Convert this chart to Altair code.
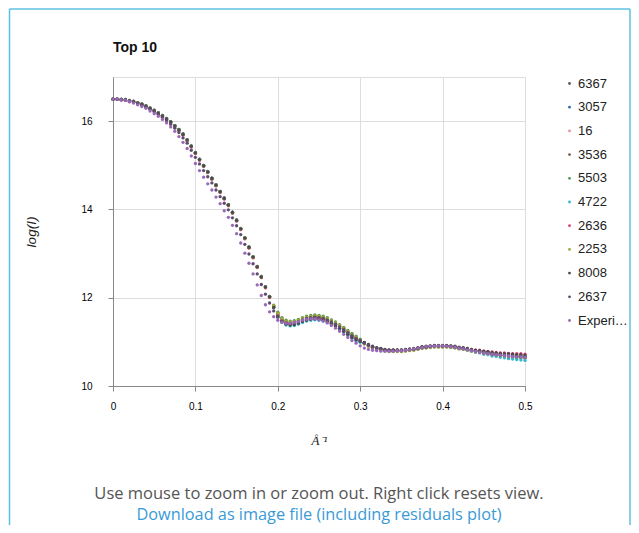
import altair as alt
import pandas as pd

# scattering vector q (1/Angstrom), same sampling for every series
Q = [0.000, 0.005, 0.010, 0.015, 0.020, 0.025, 0.030, 0.035, 0.040, 0.045,
     0.050, 0.055, 0.060, 0.065, 0.070, 0.075, 0.080, 0.085, 0.090, 0.095,
     0.100, 0.105, 0.110, 0.115, 0.120, 0.125, 0.130, 0.135, 0.140, 0.145,
     0.150, 0.155, 0.160, 0.165, 0.170, 0.175, 0.180, 0.185, 0.190, 0.195,
     0.200, 0.205, 0.210, 0.215, 0.220, 0.225, 0.230, 0.235, 0.240, 0.245,
     0.250, 0.255, 0.260, 0.265, 0.270, 0.275, 0.280, 0.285, 0.290, 0.295,
     0.300, 0.305, 0.310, 0.315, 0.320, 0.325, 0.330, 0.335, 0.340, 0.345,
     0.350, 0.355, 0.360, 0.365, 0.370, 0.375, 0.380, 0.385, 0.390, 0.395,
     0.400, 0.405, 0.410, 0.415, 0.420, 0.425, 0.430, 0.435, 0.440, 0.445,
     0.450, 0.455, 0.460, 0.465, 0.470, 0.475, 0.480, 0.485, 0.490, 0.495,
     0.500]

S6367 = [16.50,16.50,16.49,16.48,16.46,16.44,16.41,16.38,16.34,16.29,
         16.24,16.18,16.12,16.05,15.98,15.89,15.80,15.70,15.57,15.43,
         15.28,15.13,14.99,14.85,14.70,14.55,14.40,14.25,14.10,13.93,
         13.75,13.56,13.35,13.14,12.92,12.70,12.47,12.24,12.02,11.81,
         11.64,11.52,11.46,11.44,11.45,11.48,11.52,11.55,11.57,11.58,
         11.57,11.55,11.52,11.47,11.42,11.36,11.30,11.23,11.16,11.10,
         11.04,10.97,10.92,10.88,10.85,10.83,10.81,10.80,10.80,10.80,
         10.80,10.81,10.82,10.83,10.85,10.87,10.88,10.89,10.90,10.90,
         10.90,10.90,10.89,10.88,10.86,10.85,10.83,10.81,10.79,10.78,
         10.76,10.75,10.73,10.72,10.71,10.70,10.69,10.68,10.67,10.67,
         10.66]

S3057 = [16.50,16.50,16.49,16.49,16.47,16.45,16.42,16.39,16.35,16.30,
         16.25,16.19,16.13,16.06,15.99,15.90,15.81,15.71,15.58,15.44,
         15.29,15.14,15.00,14.86,14.71,14.56,14.41,14.26,14.11,13.94,
         13.76,13.57,13.36,13.15,12.93,12.71,12.48,12.25,12.03,11.78,
         11.59,11.47,11.41,11.39,11.40,11.43,11.47,11.50,11.52,11.53,
         11.52,11.50,11.47,11.42,11.37,11.31,11.25,11.18,11.11,11.05,
         11.01,10.98,10.93,10.89,10.86,10.84,10.82,10.81,10.81,10.81,
         10.81,10.82,10.83,10.84,10.86,10.88,10.89,10.90,10.91,10.91,
         10.91,10.91,10.90,10.89,10.87,10.86,10.83,10.81,10.79,10.77,
         10.75,10.74,10.72,10.70,10.69,10.68,10.67,10.65,10.64,10.64,
         10.63]

S16 = [16.50,16.50,16.48,16.47,16.44,16.42,16.39,16.36,16.32,16.27,
       16.22,16.16,16.10,16.03,15.96,15.87,15.78,15.68,15.55,15.41,
       15.26,15.11,14.97,14.83,14.68,14.53,14.38,14.23,14.08,13.91,
       13.73,13.54,13.33,13.12,12.90,12.68,12.45,12.22,12.00,11.82,
       11.66,11.54,11.48,11.46,11.47,11.50,11.54,11.57,11.59,11.60,
       11.59,11.57,11.54,11.49,11.44,11.38,11.32,11.25,11.18,11.12,
       11.05,10.97,10.92,10.88,10.85,10.83,10.81,10.80,10.80,10.80,
       10.80,10.81,10.82,10.83,10.85,10.87,10.88,10.89,10.90,10.90,
       10.90,10.90,10.89,10.88,10.86,10.86,10.84,10.82,10.80,10.79,
       10.78,10.77,10.75,10.74,10.73,10.72,10.72,10.71,10.70,10.70,
       10.69]

S3536 = [16.50,16.50,16.49,16.49,16.47,16.45,16.42,16.39,16.35,16.30,
         16.25,16.19,16.13,16.06,15.99,15.90,15.81,15.71,15.58,15.44,
         15.29,15.14,15.00,14.86,14.71,14.56,14.41,14.26,14.11,13.94,
         13.76,13.57,13.36,13.15,12.93,12.71,12.48,12.25,12.03,11.80,
         11.62,11.50,11.44,11.42,11.43,11.46,11.50,11.53,11.55,11.56,
         11.55,11.53,11.50,11.45,11.40,11.34,11.28,11.21,11.14,11.08,
         11.03,10.96,10.91,10.87,10.84,10.82,10.80,10.79,10.79,10.79,
         10.79,10.80,10.81,10.82,10.84,10.86,10.87,10.88,10.89,10.89,
         10.89,10.89,10.88,10.87,10.85,10.84,10.82,10.80,10.78,10.77,
         10.75,10.74,10.72,10.71,10.70,10.69,10.68,10.67,10.66,10.66,
         10.65]

S5503 = [16.50,16.50,16.49,16.48,16.46,16.44,16.41,16.38,16.34,16.29,
         16.24,16.18,16.12,16.05,15.98,15.89,15.80,15.70,15.57,15.43,
         15.28,15.13,14.99,14.85,14.70,14.55,14.40,14.25,14.10,13.93,
         13.75,13.56,13.35,13.14,12.92,12.70,12.47,12.24,12.02,11.83,
         11.67,11.55,11.49,11.47,11.48,11.51,11.55,11.58,11.60,11.61,
         11.60,11.58,11.55,11.50,11.45,11.39,11.33,11.26,11.19,11.13,
         11.06,10.98,10.93,10.89,10.86,10.84,10.82,10.81,10.81,10.81,
         10.81,10.82,10.83,10.84,10.86,10.88,10.89,10.90,10.91,10.91,
         10.91,10.91,10.90,10.89,10.87,10.86,10.84,10.82,10.80,10.79,
         10.77,10.76,10.74,10.73,10.72,10.71,10.70,10.69,10.68,10.68,
         10.67]

S4722 = [16.50,16.50,16.49,16.48,16.46,16.44,16.41,16.38,16.34,16.29,
         16.24,16.18,16.12,16.05,15.98,15.89,15.80,15.70,15.57,15.43,
         15.28,15.13,14.99,14.85,14.70,14.55,14.40,14.25,14.10,13.93,
         13.75,13.56,13.35,13.14,12.92,12.70,12.47,12.24,12.02,11.77,
         11.56,11.44,11.38,11.36,11.37,11.40,11.44,11.47,11.49,11.50,
         11.49,11.47,11.44,11.39,11.34,11.28,11.22,11.15,11.08,11.02,
         10.99,10.96,10.91,10.87,10.84,10.82,10.80,10.79,10.79,10.79,
         10.79,10.80,10.81,10.82,10.84,10.86,10.87,10.88,10.89,10.89,
         10.89,10.89,10.88,10.87,10.85,10.84,10.81,10.79,10.76,10.75,
         10.72,10.71,10.68,10.67,10.65,10.64,10.62,10.61,10.60,10.59,
         10.58]

S2636 = [16.50,16.50,16.48,16.47,16.45,16.43,16.40,16.37,16.33,16.28,
         16.23,16.17,16.11,16.04,15.97,15.88,15.79,15.69,15.56,15.42,
         15.27,15.12,14.98,14.84,14.69,14.54,14.39,14.24,14.09,13.92,
         13.74,13.55,13.34,13.13,12.91,12.69,12.46,12.23,12.01,11.79,
         11.60,11.48,11.42,11.40,11.41,11.44,11.48,11.51,11.53,11.54,
         11.53,11.51,11.48,11.43,11.38,11.32,11.26,11.19,11.12,11.06,
         11.02,10.98,10.93,10.89,10.86,10.84,10.82,10.81,10.81,10.81,
         10.81,10.82,10.83,10.84,10.86,10.88,10.89,10.90,10.91,10.91,
         10.91,10.91,10.90,10.89,10.87,10.86,10.85,10.83,10.81,10.81,
         10.79,10.78,10.77,10.76,10.75,10.75,10.74,10.73,10.73,10.73,
         10.72]

S2253 = [16.50,16.50,16.49,16.48,16.46,16.44,16.41,16.38,16.34,16.29,
         16.24,16.18,16.12,16.05,15.98,15.89,15.80,15.70,15.57,15.43,
         15.28,15.13,14.99,14.85,14.70,14.55,14.40,14.25,14.10,13.93,
         13.75,13.56,13.35,13.14,12.92,12.70,12.47,12.24,12.02,11.82,
         11.65,11.53,11.47,11.45,11.46,11.49,11.53,11.56,11.58,11.59,
         11.58,11.56,11.53,11.48,11.43,11.37,11.31,11.24,11.17,11.11,
         11.04,10.95,10.90,10.86,10.83,10.81,10.79,10.78,10.78,10.78,
         10.78,10.79,10.80,10.81,10.83,10.85,10.86,10.87,10.88,10.88,
         10.88,10.88,10.87,10.86,10.84,10.83,10.81,10.79,10.77,10.76,
         10.74,10.73,10.71,10.70,10.69,10.68,10.67,10.66,10.65,10.65,
         10.64]

S8008 = [16.50,16.50,16.49,16.48,16.46,16.44,16.41,16.38,16.34,16.29,
         16.24,16.18,16.12,16.05,15.98,15.89,15.80,15.70,15.57,15.43,
         15.28,15.13,14.99,14.85,14.70,14.55,14.40,14.25,14.10,13.93,
         13.75,13.56,13.35,13.14,12.92,12.70,12.47,12.24,12.02,11.78,
         11.58,11.46,11.40,11.38,11.39,11.42,11.46,11.49,11.51,11.52,
         11.51,11.49,11.46,11.41,11.36,11.30,11.24,11.17,11.10,11.04,
         11.01,10.99,10.94,10.90,10.87,10.85,10.83,10.82,10.82,10.82,
         10.82,10.83,10.84,10.85,10.87,10.89,10.90,10.91,10.92,10.92,
         10.92,10.92,10.91,10.90,10.88,10.87,10.85,10.83,10.81,10.80,
         10.79,10.78,10.76,10.75,10.74,10.73,10.73,10.72,10.71,10.71,
         10.70]

S2637 = [16.50,16.50,16.49,16.48,16.45,16.43,16.39,16.36,16.32,16.27,
         16.21,16.15,16.09,16.01,15.93,15.84,15.74,15.62,15.50,15.34,
         15.18,15.03,14.88,14.74,14.60,14.44,14.29,14.14,13.99,13.81,
         13.63,13.43,13.21,12.99,12.77,12.54,12.30,12.08,11.88,11.70,
         11.56,11.47,11.43,11.42,11.43,11.46,11.50,11.53,11.55,11.56,
         11.55,11.53,11.50,11.45,11.40,11.34,11.28,11.21,11.14,11.08,
         11.03,10.97,10.92,10.88,10.85,10.83,10.81,10.80,10.80,10.80,
         10.80,10.81,10.82,10.83,10.85,10.87,10.88,10.89,10.90,10.90,
         10.90,10.90,10.89,10.88,10.86,10.85,10.83,10.81,10.79,10.77,
         10.75,10.74,10.72,10.71,10.70,10.69,10.68,10.67,10.66,10.66,
         10.65]

EXPERIMENTAL = [16.50,16.50,16.48,16.47,16.44,16.41,16.37,16.33,16.29,16.23,
                16.17,16.11,16.04,15.96,15.87,15.77,15.65,15.52,15.38,15.21,
                15.04,14.88,14.73,14.58,14.44,14.28,14.13,13.97,13.82,13.64,
                13.45,13.24,13.01,12.78,12.54,12.29,12.05,11.84,11.68,11.57,
                11.49,11.44,11.42,11.42,11.44,11.46,11.49,11.51,11.52,11.52,
                11.50,11.47,11.43,11.37,11.31,11.24,11.17,11.10,11.03,10.97,
                10.91,10.86,10.83,10.81,10.80,10.79,10.79,10.79,10.79,10.80,
                10.80,10.81,10.82,10.84,10.86,10.87,10.89,10.90,10.90,10.91,
                10.91,10.90,10.89,10.88,10.86,10.84,10.82,10.80,10.78,10.76,
                10.75,10.73,10.72,10.71,10.70,10.69,10.68,10.67,10.66,10.66,
                10.65]

SERIES = ["6367", "3057", "16", "3536", "5503", "4722", "2636", "2253",
          "8008", "2637", "Experimental"]
VALUES = [S6367, S3057, S16, S3536, S5503, S4722, S2636, S2253,
          S8008, S2637, EXPERIMENTAL]
COLORS = ["#5a5a5a", "#3b6ea5", "#e8949c", "#7a5a4a", "#4a9a4a", "#30b8d0",
          "#e0407a", "#a0a83a", "#4a4a4a", "#5e4c6e", "#9a68b8"]

X_TICKS = [0, 0.1, 0.2, 0.3, 0.4, 0.5]
Y_TICKS = [10, 12, 14, 16]

TITLE = "Top 10"
NOTE = "Use mouse to zoom in or zoom out. Right click resets view."
LINK = "Download as image file (including residuals plot)"

rows = []
for idx, (name, vals) in enumerate(zip(SERIES, VALUES)):
    for q, v in zip(Q, vals):
        rows.append({"series": name, "idx": idx, "q": q, "v": v})
df = pd.DataFrame(rows)

W, H = 412, 309

points = alt.Chart(df).mark_circle(size=11, opacity=1).encode(
    x=alt.X("q:Q", scale=alt.Scale(domain=[0, 0.5], nice=False),
            axis=alt.Axis(values=X_TICKS, format=".1~f", title="Å⁻¹",
                          labelFlush=False,
                          titleFont="Liberation Serif", titleFontStyle="italic",
                          titleFontSize=13, titleFontWeight="normal",
                          titleColor="#222", titlePadding=23, labelPadding=10)),
    y=alt.Y("v:Q", scale=alt.Scale(domain=[10, 17], nice=False, zero=False),
            axis=alt.Axis(values=Y_TICKS, format="d", title="log(I)",
                          labelFlush=False,
                          titleFont="Liberation Sans", titleFontStyle="italic",
                          titleFontSize=13.5, titleFontWeight="normal",
                          titleColor="#222", titlePadding=42, labelPadding=16)),
    color=alt.Color("series:N", sort=SERIES,
                    scale=alt.Scale(domain=SERIES, range=COLORS),
                    legend=alt.Legend(title=None, orient="none", legendX=450,
                                      legendY=0, symbolType="circle",
                                      symbolSize=8, symbolStrokeWidth=0,
                                      labelFont="Liberation Sans",
                                      labelFontSize=13, labelColor="#222",
                                      rowPadding=9.7, labelOffset=2,
                                      labelLimit=50, padding=0)),
    order=alt.Order("idx:Q"),
)

one = pd.DataFrame({"k": [0]})

title = alt.Chart(pd.DataFrame({"t": [TITLE]})).mark_text(
    font="Liberation Sans", fontSize=14, fontWeight="bold", color="#111",
    align="left", baseline="alphabetic").encode(
    text="t:N", x=alt.value(0), y=alt.value(-25))

note = alt.Chart(pd.DataFrame({"t": [NOTE]})).mark_text(
    font="Open Sans", fontSize=16.5, color="#555555", align="center",
    baseline="middle").encode(text="t:N", x=alt.value(W / 2), y=alt.value(417))

link = alt.Chart(pd.DataFrame({"t": [LINK]})).mark_text(
    font="Open Sans", fontSize=16.3, color="#3a9ad6", align="center",
    baseline="middle").encode(text="t:N", x=alt.value(W / 2), y=alt.value(437.5))

border_col = "#5cc0e4"
left_b = alt.Chart(one).mark_rule(color=border_col, strokeWidth=1.5).encode(
    x=alt.value(-103.5), y=alt.value(-68), y2=alt.value(448))
right_b = alt.Chart(one).mark_rule(color=border_col, strokeWidth=1.5).encode(
    x=alt.value(517), y=alt.value(-68), y2=alt.value(448))
top_b = alt.Chart(one).mark_rule(color=border_col, strokeWidth=1.5).encode(
    x=alt.value(-103.5), x2=alt.value(517), y=alt.value(-68))

chart = alt.layer(points, title, note, link, left_b, right_b, top_b).properties(
    width=W, height=H,
    autosize=alt.AutoSizeParams(type="none"),
    padding={"left": 105, "top": 69, "right": 106, "bottom": 139},
).configure_view(stroke=None).configure_axis(
    labelFont="Liberation Sans", labelFontSize=13, labelColor="#444",
    gridColor="#cccccc", gridWidth=1, domainColor="#333333", domainWidth=1,
    ticks=False,
).configure(background="white")

chart.save("out.html", embed_options={"renderer": "svg", "actions": False})
